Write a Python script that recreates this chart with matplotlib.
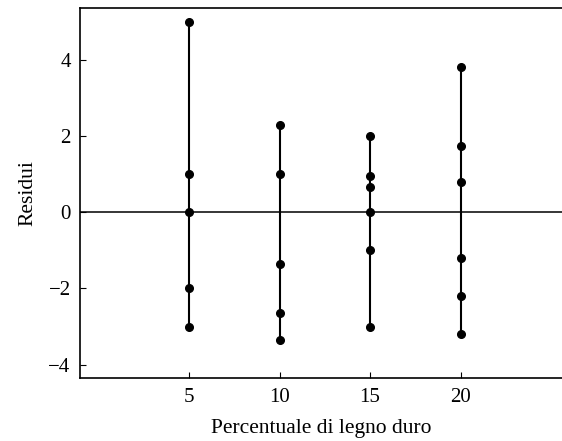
import matplotlib.pyplot as plt

plt.rcParams['font.family'] = ['Liberation Serif', 'DejaVu Serif']

# residuals for each hardwood percentage
percent = [5, 10, 15, 20]
res_5 = [5.0, 1.0, 0.0, -2.0, -3.0]
res_10 = [2.3, 1.0, -1.35, -2.65, -3.35]
res_15 = [2.0, 0.95, 0.65, 0.0, -1.0, -3.0]
res_20 = [3.8, 1.75, 0.8, -1.2, -2.2, -3.2]
residuals = [res_5, res_10, res_15, res_20]

fig = plt.figure(figsize=(5.62, 4.41), dpi=100)
ax = fig.add_axes([0.143, 0.143, 0.857, 0.838])

ax.axhline(0, color='black', lw=1.1)
for x, r in zip(percent, residuals):
    ax.vlines(x, min(r), max(r), color='black', lw=1.5)
    ax.plot([x] * len(r), r, 'o', color='black', ms=5.5)

ax.set_xlim(-1, 25.6)
ax.set_ylim(-4.35, 5.35)
ax.set_xticks(percent)
ax.set_yticks([-4, -2, 0, 2, 4])
ax.set_yticklabels(['\u22124', '\u22122', '0', '2', '4'])
ax.tick_params(direction='in', length=4, labelsize=15, pad=7)
ax.spines['right'].set_visible(False)
for s in ['left', 'top', 'bottom']:
    ax.spines[s].set_linewidth(1.2)

ax.set_xlabel('Percentuale di legno duro', fontsize=15.5, labelpad=9)
ax.set_ylabel('Residui', fontsize=15.5, labelpad=8)

fig.savefig('out.png', dpi=100)
